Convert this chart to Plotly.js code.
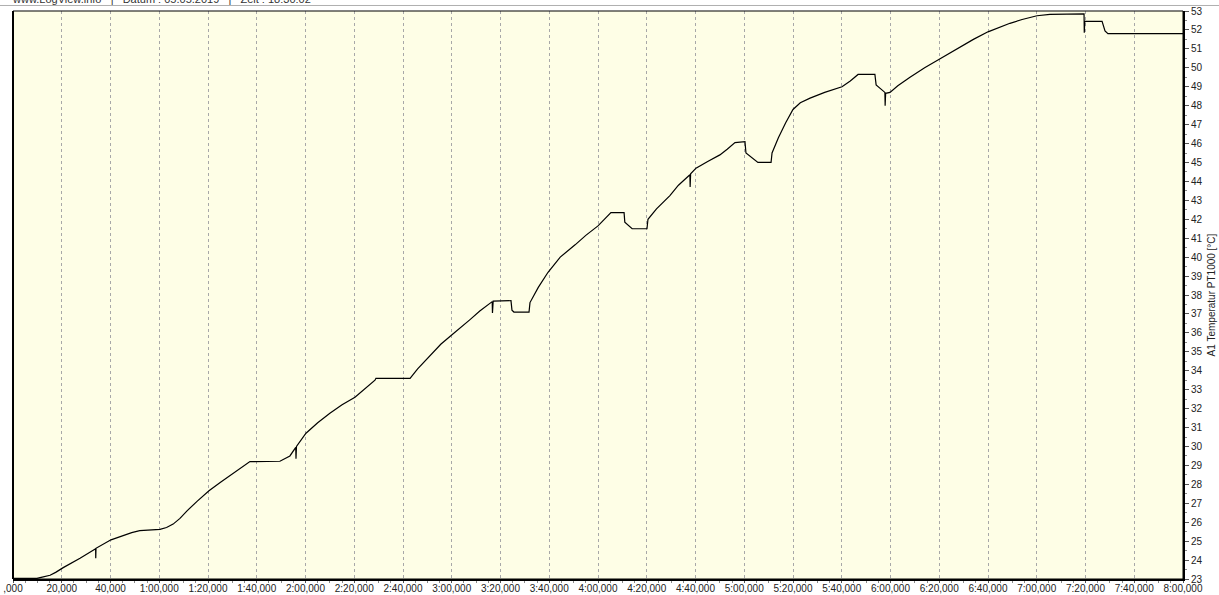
<!DOCTYPE html>
<html>
<head>
<meta charset="utf-8">
<script src="https://cdn.plot.ly/plotly-3.0.1.min.js"></script>
<style>html,body{margin:0;padding:0;background:#fff;}#chart{width:1219px;height:595px;}</style>
</head>
<body>
<div id="chart"></div>
<script>
// time in minutes since start
const timeMin = [0, 9.8, 12, 15.2, 17.5, 20.6, 27.5, 33.9, 33.95, 34.05, 40.2, 44, 48.7, 52, 56, 60.3, 63, 65.7, 68.5, 71.4, 75.5, 80.4, 85, 90, 94, 97.2, 109.5, 113.6, 116.0, 116.1, 116.3, 120.2, 125, 130, 135, 140.3, 144.5, 148.5, 148.9, 162.9, 166, 171, 175.5, 180.1, 184, 187.5, 191.5, 195.7, 196.6, 196.7, 197.0, 204.3, 204.7, 205.5, 211.7, 212.1, 215.5, 219.5, 224.5, 230.6, 235, 240, 243, 245.3, 250.7, 251.0, 254.0, 260.1, 260.5, 264, 269.5, 273, 277.7, 277.8, 278.0, 280.2, 285, 290, 293, 296.2, 300.3, 300.7, 305.6, 311.0, 311.4, 314, 317, 320, 323, 327, 333, 340.1, 343.5, 346.7, 353.6, 354.1, 357.7, 357.8, 358.0, 359.8, 363, 368, 374, 380, 388.5, 394, 400, 404, 409, 414, 420.1, 425.4, 439.4, 439.5, 439.7, 446.8, 448, 449.2, 480];
const tempC = [23.03, 23.03, 23.1, 23.2, 23.35, 23.6, 24.1, 24.6, 24.1, 24.62, 25.07, 25.25, 25.45, 25.55, 25.6, 25.62, 25.72, 25.9, 26.2, 26.6, 27.1, 27.66, 28.1, 28.55, 28.95, 29.2, 29.22, 29.5, 29.95, 29.35, 30.0, 30.7, 31.25, 31.75, 32.2, 32.6, 33.05, 33.5, 33.6, 33.6, 34.1, 34.8, 35.4, 35.9, 36.3, 36.7, 37.15, 37.6, 37.65, 37.05, 37.68, 37.7, 37.2, 37.1, 37.1, 37.6, 38.4, 39.2, 40.0, 40.65, 41.15, 41.65, 42.05, 42.35, 42.35, 41.85, 41.5, 41.5, 42.0, 42.55, 43.25, 43.8, 44.35, 43.7, 44.4, 44.7, 45.05, 45.4, 45.7, 46.05, 46.1, 45.5, 45.0, 45.0, 45.5, 46.3, 47.1, 47.8, 48.15, 48.4, 48.7, 49.0, 49.3, 49.65, 49.65, 49.1, 48.7, 48.0, 48.65, 48.7, 49.05, 49.5, 50.0, 50.45, 51.1, 51.5, 51.9, 52.1, 52.35, 52.55, 52.75, 52.82, 52.85, 51.85, 52.45, 52.45, 51.95, 51.8, 51.8];

const tickVals = [0, 20, 40, 60, 80, 100, 120, 140, 160, 180, 200, 220, 240, 260, 280, 300, 320, 340, 360, 380, 400, 420, 440, 460, 480];
const tickText = [",000", "20,000", "40,000", "1:00,000", "1:20,000", "1:40,000", "2:00,000", "2:20,000", "2:40,000", "3:00,000", "3:20,000", "3:40,000", "4:00,000", "4:20,000", "4:40,000", "5:00,000", "5:20,000", "5:40,000", "6:00,000", "6:20,000", "6:40,000", "7:00,000", "7:20,000", "7:40,000", "8:00,000"];
const yTickVals = [23,24,25,26,27,28,29,30,31,32,33,34,35,36,37,38,39,40,41,42,43,44,45,46,47,48,49,50,51,52,53];
const headerText = "www.LogView.info   |   Datum : 05.05.2019   |   Zeit : 18:30:02";
const yTitle = "A1 Temperatur PT1000 [°C]";

const trace = {
  x: timeMin, y: tempC, type: 'scatter', mode: 'lines',
  line: {color: '#000000', width: 1.2, shape: 'linear'},
  hoverinfo: 'skip'
};

const layout = {
  width: 1219, height: 595,
  margin: {l: 13, r: 36, t: 11, b: 16},
  paper_bgcolor: '#ffffff',
  plot_bgcolor: '#fefee6',
  showlegend: false,
  font: {family: 'Liberation Sans, Arial, sans-serif', size: 10, color: '#222'},
  xaxis: {
    range: [0, 480], tickmode: 'array', tickvals: tickVals, ticktext: tickText,
    showgrid: true, gridcolor: '#a8a8a8', gridwidth: 1, griddash: '3px,3px',
    zeroline: false, showline: true, linecolor: '#000', linewidth: 2, mirror: false,
    ticks: 'outside', ticklen: 2, tickcolor: '#555', tickwidth: 1,
    ticklabelstandoff: -3,
    minor: {dtick: 5, tick0: 0, ticks: 'outside', ticklen: 2, tickcolor: '#888', showgrid: false},
    tickfont: {size: 10, color: '#222'}, fixedrange: true
  },
  yaxis: {
    range: [23, 53], side: 'right', tickmode: 'array', tickvals: yTickVals,
    showgrid: false, zeroline: false, showline: true, linecolor: '#000', linewidth: 2,
    ticks: 'outside', ticklen: 4, tickcolor: '#555', tickwidth: 1,
    minor: {dtick: 0.5, tick0: 23, ticks: 'outside', ticklen: 2, tickcolor: '#888', showgrid: false},
    tickfont: {size: 10, color: '#222'},
    title: {text: yTitle, font: {size: 10, color: '#222'}, standoff: 6},
    fixedrange: true
  },
  shapes: [
    {type: 'rect', xref: 'paper', yref: 'paper', x0: 0, x1: 1, y0: 0, y1: 1,
     line: {color: '#000', width: 1}, fillcolor: 'rgba(0,0,0,0)'},
    {type: 'line', xref: 'paper', yref: 'paper', x0: 0, x1: 0, y0: 0, y1: 1,
     line: {color: '#000', width: 2}},
    {type: 'line', xref: 'paper', yref: 'paper', x0: -0.0111, x1: 1.031, y0: 1.0097, y1: 1.0097,
     line: {color: '#b0b0b0', width: 1}}
  ],
  annotations: [
    {text: headerText, xref: 'paper', yref: 'paper', x: -0.0025, y: 1.0215,
     xanchor: 'left', yanchor: 'middle', showarrow: false,
     font: {size: 11, color: '#333', family: 'Liberation Sans, Arial, sans-serif'}}
  ]
};

Plotly.newPlot('chart', [trace], layout, {displayModeBar: false, staticPlot: true});
</script>
</body>
</html>
